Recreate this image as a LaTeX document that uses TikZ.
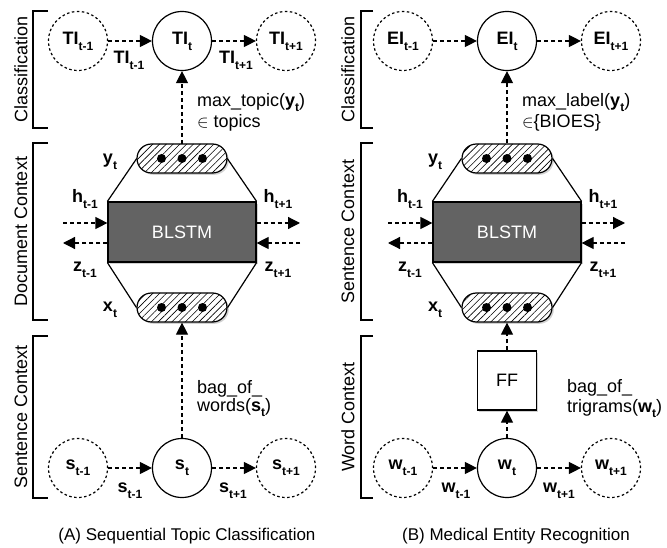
\documentclass[tikz,border=0pt]{standalone}
\usepackage{fontspec}
\setmainfont{Liberation Sans}
\usetikzlibrary{arrows.meta,patterns.meta,shadows}
\definecolor{boxgray}{RGB}{99,99,99}
\newcommand{\lb}[2]{\textbf{#1}\raisebox{-6pt}{\fontsize{12}{12}\selectfont\textbf{#2}}}
\newcommand{\sbx}[1]{\raisebox{-5pt}{\fontsize{12}{12}\selectfont\textbf{#1}}}
\begin{document}
\begin{tikzpicture}[x=1pt,y=-1pt,font=\fontsize{18}{21}\selectfont,
  ln/.style={line width=1.2pt},
  brk/.style={line width=1.3pt},
  dcirc/.style={circle,draw,line width=1.2pt,dash pattern=on 2.5pt off 2.5pt,minimum size=59pt,inner sep=0pt},
  scirc/.style={circle,draw,line width=1.2pt,minimum size=59pt,inner sep=0pt},
  darr/.style={line width=1.2pt,dash pattern=on 4pt off 3pt,-{Triangle[length=12pt,width=12pt]}},
  shad/.style={drop shadow={shadow xshift=1.8pt,shadow yshift=-1.8pt,fill=black!18,opacity=1}},
  pad/.style={draw,line width=1.2pt,rounded corners=14.5pt,minimum width=90pt,minimum height=29pt,inner sep=0pt,
     shad,preaction={fill=white},pattern={Lines[angle=45,distance=4.8pt,line width=0.6pt]}},
  blstm/.style={draw,line width=1.2pt,fill=boxgray,shad,minimum width=148pt,minimum height=60pt,text=white,inner sep=0pt},
  ffbox/.style={draw,line width=1.2pt,fill=white,shad,minimum size=59pt,inner sep=0pt},
  lab/.style={inner sep=0pt},
  side/.style={rotate=90,inner sep=0pt}]
\useasboundingbox (0,0) rectangle (667,548);

% ================= Left panel =================
\draw[brk] (48,11) -- (33,11) -- (33,128) -- (48,128);
\draw[brk] (48,143) -- (33,143) -- (33,320) -- (48,320);
\draw[brk] (48,336) -- (33,336) -- (33,498) -- (48,498);
\node[side] (lc1) at (21,69.5) {Classification};
\node[side] (lc2) at (21,231.5) {Document Context};
\node[side] (lc3) at (21,417) {Sentence Context};

\node[dcirc] (tim) at (78,41) {\lb{TI}{t-1}};
\node[scirc] (ti) at (182,41) {\lb{TI}{t}};
\node[dcirc] (tip) at (286,41) {\lb{TI}{t+1}};
\draw[darr] (tim) -- (ti);
\draw[darr] (ti) -- (tip);
\node[lab] (ltim) at (129,60) {\lb{TI}{t-1}};
\node[lab] (ltip) at (236,60) {\lb{TI}{t+1}};

\node[pad] (ly) at (182,158.5) {};
\node[blstm] (lb) at (182,232) {BLSTM};
\node[pad] (lx) at (182,307.5) {};
\foreach \xx in {161.5,182,202.5} {
  \fill (\xx,158.5) circle[radius=4.5pt];
  \fill (\xx,307.5) circle[radius=4.5pt];
}
\draw[ln] (ly.west) -- (lb.north west);
\draw[ln] (ly.east) -- (lb.north east);
\draw[ln] (lx.west) -- (lb.south west);
\draw[ln] (lx.east) -- (lb.south east);
\draw[darr] (ly) -- (ti);

\coordinate (lhin) at (63,223);
\coordinate (lhout) at (300,223);
\coordinate (lzout) at (63,243);
\coordinate (lzin) at (300,243);
\draw[darr] (lhin) -- (lb.west |- lhin);
\draw[darr] (lb.east |- lhout) -- (lhout);
\draw[darr] (lb.west |- lzout) -- (lzout);
\draw[darr] (lzin) -- (lb.east |- lzin);
\node[lab] (lly) at (110,162) {\lb{y}{t}};
\node[lab] (llx) at (110,310) {\lb{x}{t}};
\node[lab] (llh1) at (85,199.5) {\lb{h}{t-1}};
\node[lab] (llh2) at (278,199.5) {\lb{h}{t+1}};
\node[lab] (llz1) at (85,270) {\lb{z}{t-1}};
\node[lab] (llz2) at (278,270) {\lb{z}{t+1}};

\node[anchor=base west,inner sep=0pt] (lt1) at (197,107) {max\_topic(\textbf{y}\sbx{t})};
\node[anchor=base west,inner sep=0pt] (lt2) at (197,128) {$\in$ topics};

\node[dcirc] (sm) at (78,468) {\lb{s}{t-1}};
\node[scirc] (s) at (182,468) {\lb{s}{t}};
\node[dcirc] (sp) at (286,468) {\lb{s}{t+1}};
\draw[darr] (sm) -- (s);
\draw[darr] (s) -- (sp);
\draw[darr] (s) -- (lx);
\node[lab] (lsm) at (130,491) {\lb{s}{t-1}};
\node[lab] (lsp) at (233,491) {\lb{s}{t+1}};
\node[anchor=base west,inner sep=0pt] (lw1) at (197,393) {bag\_of\_};
\node[anchor=base west,inner sep=0pt] (lw2) at (197,411) {words(\textbf{s}\sbx{t})};

\node[font=\fontsize{17}{20}\selectfont] (capA) at (187,536) {(A) Sequential Topic Classification};

% ================= Right panel =================
\draw[brk] (373,11) -- (361,11) -- (361,128) -- (373,128);
\draw[brk] (373,143) -- (361,143) -- (361,320) -- (373,320);
\draw[brk] (373,336) -- (361,336) -- (361,498) -- (373,498);
\node[side] (rc1) at (348,69.5) {Classification};
\node[side] (rc2) at (348,231.5) {Sentence Context};
\node[side] (rc3) at (348,417) {Word Context};

\node[dcirc] (eim) at (403,41) {\lb{EI}{t-1}};
\node[scirc] (ei) at (507,41) {\lb{EI}{t}};
\node[dcirc] (eip) at (611,41) {\lb{EI}{t+1}};
\draw[darr] (eim) -- (ei);
\draw[darr] (ei) -- (eip);

\node[pad] (ry) at (507,158.5) {};
\node[blstm] (rb) at (507,232) {BLSTM};
\node[pad] (rx) at (507,307.5) {};
\foreach \xx in {486.5,507,527.5} {
  \fill (\xx,158.5) circle[radius=4.5pt];
  \fill (\xx,307.5) circle[radius=4.5pt];
}
\draw[ln] (ry.west) -- (rb.north west);
\draw[ln] (ry.east) -- (rb.north east);
\draw[ln] (rx.west) -- (rb.south west);
\draw[ln] (rx.east) -- (rb.south east);
\draw[darr] (ry) -- (ei);

\coordinate (rhin) at (388,223);
\coordinate (rhout) at (625,223);
\coordinate (rzout) at (388,243);
\coordinate (rzin) at (625,243);
\draw[darr] (rhin) -- (rb.west |- rhin);
\draw[darr] (rb.east |- rhout) -- (rhout);
\draw[darr] (rb.west |- rzout) -- (rzout);
\draw[darr] (rzin) -- (rb.east |- rzin);
\node[lab] (rly) at (435,162) {\lb{y}{t}};
\node[lab] (rlx) at (435,310) {\lb{x}{t}};
\node[lab] (rlh1) at (410,199.5) {\lb{h}{t-1}};
\node[lab] (rlh2) at (603,199.5) {\lb{h}{t+1}};
\node[lab] (rlz1) at (410,270) {\lb{z}{t-1}};
\node[lab] (rlz2) at (603,270) {\lb{z}{t+1}};

\node[anchor=base west,inner sep=0pt] (rt1) at (522,107) {max\_label(\textbf{y}\sbx{t})};
\node[anchor=base west,inner sep=0pt] (rt2) at (522,128) {$\in$\{BIOES\}};

\node[ffbox] (ff) at (507,380.5) {FF};
\node[dcirc] (wm) at (403,468) {\lb{w}{t-1}};
\node[scirc] (w) at (507,468) {\lb{w}{t}};
\node[dcirc] (wp) at (611,468) {\lb{w}{t+1}};
\draw[darr] (wm) -- (w);
\draw[darr] (w) -- (wp);
\draw[darr] (w) -- (ff);
\draw[darr] (ff) -- (rx);
\node[lab] (rwm) at (456,491) {\lb{w}{t-1}};
\node[lab] (rwp) at (559,491) {\lb{w}{t+1}};
\node[anchor=base west,inner sep=0pt] (rg1) at (567,392) {bag\_of\_};
\node[anchor=base west,inner sep=0pt] (rg2) at (567,412) {trigrams(\textbf{w}\sbx{t})};

\node[font=\fontsize{17}{20}\selectfont] (capB) at (516,536) {(B) Medical Entity Recognition};
\end{tikzpicture}
\end{document}
